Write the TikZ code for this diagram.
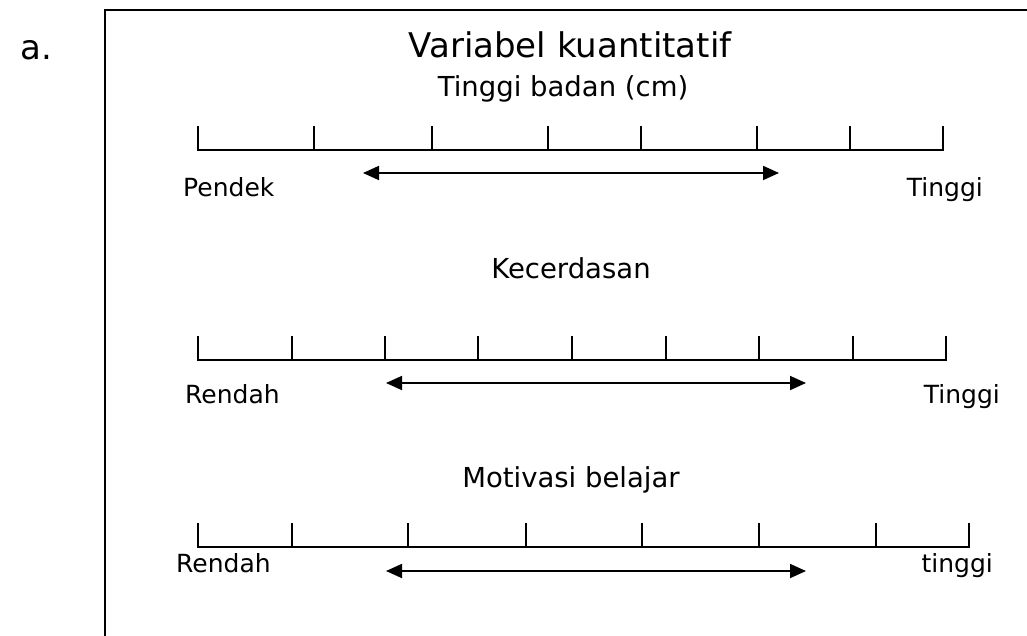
\documentclass[tikz,border=0pt]{standalone}
\usepackage{fontspec}
\setmainfont{DejaVu Sans}
\usetikzlibrary{arrows.meta}

\begin{document}
\begin{tikzpicture}[x=1pt, y=-1pt,
  scaleline/.style={line width=1.4pt},
  rangearrow/.style={{Triangle[length=16pt,width=14pt]}-{Triangle[length=16pt,width=14pt]}, line width=1.8pt},
  heading/.style={anchor=base, inner sep=0pt, font=\fontsize{27.5}{32}\selectfont},
  endlabel/.style={inner sep=0pt, font=\fontsize{25}{30}\selectfont}]
\useasboundingbox (0,0) rectangle (1027,636);

% Frame
\draw[line width=1.6pt] (105,636) -- (105,10) -- (1027,10);
\node[anchor=base west, inner sep=0pt, font=\fontsize{34}{40}\selectfont] (item) at (20,60) {a.};
\node[anchor=base, inner sep=0pt, font=\fontsize{34}{40}\selectfont] (title) at (570,58) {Variabel kuantitatif};

% Tinggi badan
\node[heading] (tinggibadan) at (563,97) {Tinggi badan (cm)};
\draw[scaleline] (198,126) -- (198,150) -- (943,150) -- (943,126);
\foreach \x in {314,432,548,641,757,850}
  \draw[scaleline] (\x,126) -- (\x,150);
\node[endlabel, anchor=base west] (pendek) at (183,197) {Pendek};
\node[endlabel, anchor=base east] (tinggiA) at (983,197) {Tinggi};
\coordinate (arrowAl) at (363,173);
\coordinate (arrowAr) at (779,173);
\draw[rangearrow] (arrowAl) -- (arrowAr);

% Kecerdasan
\node[heading] (kecerdasan) at (571,278) {Kecerdasan};
\draw[scaleline] (198,336) -- (198,360) -- (946,360) -- (946,336);
\foreach \x in {292,385,478,572,666,759,853}
  \draw[scaleline] (\x,336) -- (\x,360);
\node[endlabel, anchor=base west] (rendahB) at (185,403) {Rendah};
\node[endlabel, anchor=base east] (tinggiB) at (1000,403) {Tinggi};
\coordinate (arrowBl) at (386,383);
\coordinate (arrowBr) at (806,383);
\draw[rangearrow] (arrowBl) -- (arrowBr);

% Motivasi belajar
\node[heading] (motivasi) at (571,487) {Motivasi belajar};
\draw[scaleline] (198,523) -- (198,547) -- (969,547) -- (969,523);
\foreach \x in {292,408,526,642,759,876}
  \draw[scaleline] (\x,523) -- (\x,547);
\node[endlabel, anchor=base west] (rendahC) at (176,572) {Rendah};
\node[endlabel, anchor=base east] (tinggiC) at (993,572) {tinggi};
\coordinate (arrowCl) at (386,571);
\coordinate (arrowCr) at (806,571);
\draw[rangearrow] (arrowCl) -- (arrowCr);

\end{tikzpicture}
\end{document}
